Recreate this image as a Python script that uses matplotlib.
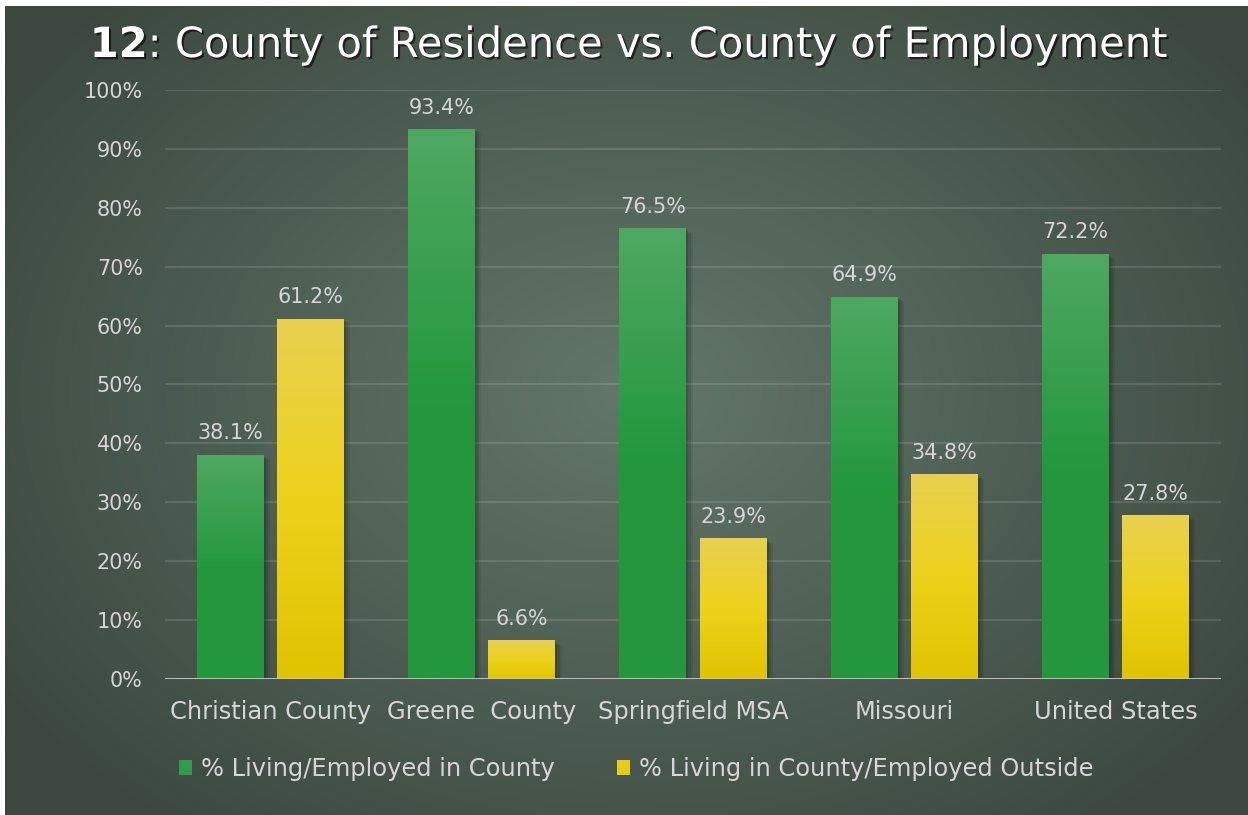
import numpy as np
import matplotlib
matplotlib.use("Agg")
import matplotlib.pyplot as plt
import matplotlib.patheffects as pe
from matplotlib.patches import Patch
from matplotlib.colors import LinearSegmentedColormap

# ---- data ----
categories = ["Christian County", "Greene  County", "Springfield MSA", "Missouri", "United States"]
living_employed_in_county = [38.1, 93.4, 76.5, 64.9, 72.2]
living_employed_outside = [61.2, 6.6, 23.9, 34.8, 27.8]
series_names = ["% Living/Employed in County", "% Living in County/Employed Outside"]
yticks = [0, 10, 20, 30, 40, 50, 60, 70, 80, 90, 100]
ytick_labels = [f"{v}%" for v in yticks]
title_bold = "12"
title_rest = ": County of Residence vs. County of Employment"

FONT = ["DejaVu Sans"]
plt.rcParams["font.family"] = FONT

W, H = 1248, 815
fig = plt.figure(figsize=(W / 100, H / 100), dpi=100, facecolor="white")
renderer = fig.canvas.get_renderer()


def fit_size(text, target_px, weight="normal"):
    t = fig.text(0, 0, text, fontsize=10, fontweight=weight)
    w = t.get_window_extent(renderer).width
    t.remove()
    return 10 * target_px / w


# ---- background with radial gradient ----
bg = fig.add_axes([0, 0, 1, 1], zorder=-10)
bg.set_xlim(0, W); bg.set_ylim(H, 0); bg.axis("off")
yy, xx = np.mgrid[0:H, 0:W]
cx, cy = 630, 390
r = np.sqrt(((xx - cx) / 760.0) ** 2 + ((yy - cy) / 560.0) ** 2)
r = np.clip(r, 0, 1)
c_center = np.array([0x63, 0x77, 0x6a]) / 255
c_edge = np.array([0x3c, 0x48, 0x3f]) / 255
img = c_center[None, None, :] * (1 - r[..., None]) + c_edge[None, None, :] * r[..., None]
bg.imshow(img, extent=(5, W, H, 6), aspect="auto", interpolation="bilinear")

fs_ytick = fit_size("100%", 59)
fs_xtick = fit_size("Christian County", 201)
fs_data = fs_ytick
fs_leg = fit_size(series_names[0], 353)

# ---- main axes ----
ax = fig.add_axes([165 / W, 1 - 679 / H, (1221 - 165) / W, (679 - 90) / H])
ax.set_facecolor("none")
for s in ax.spines.values():
    s.set_visible(False)
ax.set_ylim(0, 100)
ax.set_yticks(yticks)
ax.set_yticklabels(ytick_labels)
ax.grid(axis="y", color="white", alpha=0.12, lw=1.6, zorder=0)
ax.set_axisbelow(True)
ax.tick_params(axis="y", length=0, pad=16, labelsize=fs_ytick, labelcolor="#d6d6d6")
x = np.arange(len(categories))
ax.set_xticks(x)
ax.set_xticklabels(categories)
ax.tick_params(axis="x", length=0, pad=15, labelsize=fs_xtick, labelcolor="#d6d6d6")
ax.axhline(0, color="#c8c8c8", lw=2, zorder=5)

bw = 0.317
off = 0.19
green_cmap = LinearSegmentedColormap.from_list("g", ["#24963d", "#24983e", "#4fa862"])
yellow_cmap = LinearSegmentedColormap.from_list("y", ["#e0c300", "#edd21c", "#e8d050"])

shadow = [pe.SimplePatchShadow(offset=(1.5, -1.5), shadow_rgbFace="black", alpha=0.12),
          pe.SimplePatchShadow(offset=(3, -2.5), shadow_rgbFace="black", alpha=0.10),
          pe.SimplePatchShadow(offset=(4.5, -3.5), shadow_rgbFace="black", alpha=0.07),
          pe.Normal()]
grad = np.linspace(0, 1, 256).reshape(-1, 1)


def gradient_bars(xpos, vals, cmap):
    bars = ax.bar(xpos, vals, width=bw, color=cmap(0.5), zorder=3, path_effects=shadow)
    for b in bars:
        x0, y0 = b.get_x(), b.get_y()
        w, h = b.get_width(), b.get_height()
        im = ax.imshow(grad, cmap=cmap, extent=(x0, x0 + w, y0, y0 + h), origin="lower",
                       aspect="auto", zorder=4, vmin=0, vmax=1)
        im.set_clip_path(b)
    return bars


b1 = gradient_bars(x - off, living_employed_in_county, green_cmap)
b2 = gradient_bars(x + off, living_employed_outside, yellow_cmap)
ax.set_xlim(-0.5, len(categories) - 0.5)
ax.set_ylim(0, 100)

for bars, vals in [(b1, living_employed_in_county), (b2, living_employed_outside)]:
    for b, v in zip(bars, vals):
        ax.annotate(f"{v}%", (b.get_x() + b.get_width() / 2, v), xytext=(0, 11),
                    textcoords="offset points", ha="center", va="baseline",
                    fontsize=fs_data, color="#d6d6d6", zorder=6)

# ---- legend ----
handles = [Patch(facecolor="#2f9d47"), Patch(facecolor="#e6cb1a")]
leg = fig.legend(handles, series_names, loc="center", bbox_to_anchor=(636 / W, 1 - 769 / H),
                 ncol=2, frameon=False, fontsize=fs_leg, handlelength=0.55, handleheight=0.6,
                 handletextpad=0.35, columnspacing=2.6)
for t in leg.get_texts():
    t.set_color("#d6d6d6")

# ---- title ----
tshadow = [pe.withSimplePatchShadow(offset=(1.5, -1.5), shadow_rgbFace="black", alpha=0.6)]
t1 = fig.text(0, 0, title_bold, fontsize=10, fontweight="bold", color="white", path_effects=tshadow)
t2 = fig.text(0, 0, title_rest, fontsize=10, color="white", path_effects=tshadow)
w_tot = t1.get_window_extent(renderer).width + t2.get_window_extent(renderer).width
fs_title = 10 * 1077 / w_tot
t1.set_fontsize(fs_title); t2.set_fontsize(fs_title)
w1 = t1.get_window_extent(renderer).width
w2 = t2.get_window_extent(renderer).width
xstart = 628.5 - (w1 + w2) / 2
ybase = 1 - 57 / H
t1.set_position((xstart / W, ybase)); t1.set_va("baseline")
t2.set_position(((xstart + w1) / W, ybase)); t2.set_va("baseline")

fig.savefig("out.png", dpi=100, facecolor="white")
